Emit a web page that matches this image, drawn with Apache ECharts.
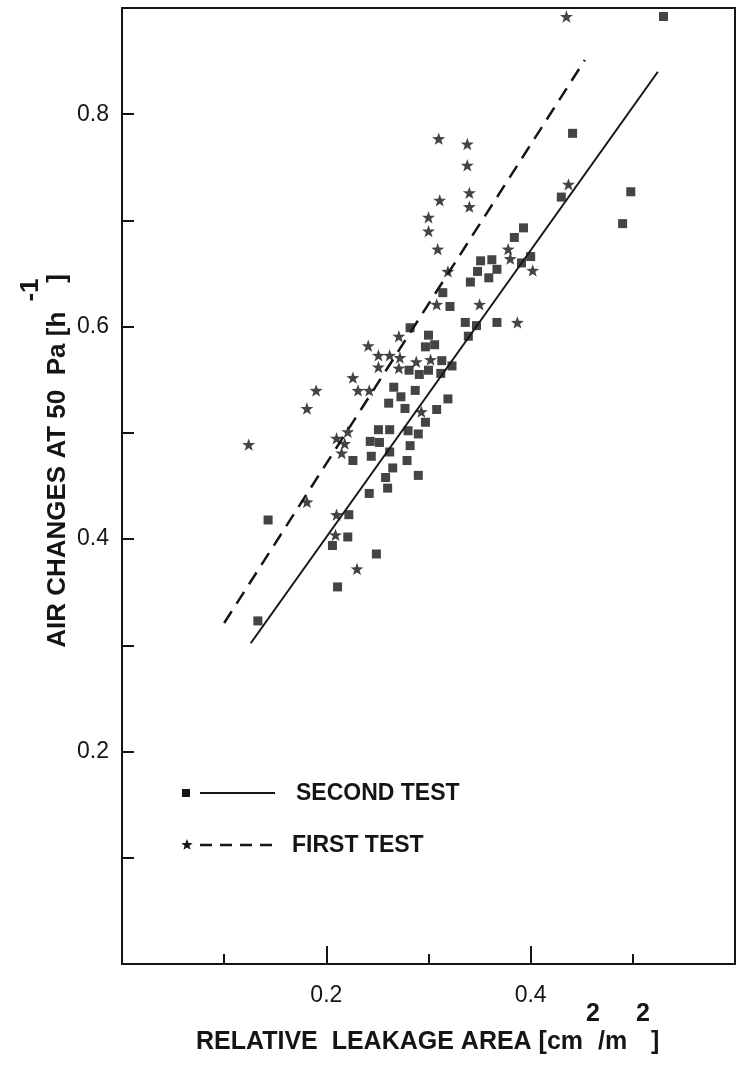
<!DOCTYPE html>
<html><head><meta charset="utf-8">
<script src="https://cdn.jsdelivr.net/npm/echarts@6/dist/echarts.min.js"></script>
<style>html,body{margin:0;padding:0;background:#fff}#c{width:738px;height:1067px}</style>
</head><body><div id="c"></div>
<script>
// Second test (squares): [relative leakage area, air changes at 50 Pa]
const secondTest = [
  [0.530,0.892],[0.441,0.782],[0.498,0.727],[0.490,0.697],[0.430,0.722],[0.393,0.693],
  [0.384,0.684],[0.400,0.666],[0.391,0.660],[0.351,0.662],[0.362,0.663],[0.348,0.652],
  [0.367,0.654],[0.359,0.646],[0.341,0.642],[0.314,0.632],[0.321,0.619],[0.336,0.604],
  [0.347,0.601],[0.367,0.604],[0.339,0.591],[0.282,0.599],[0.300,0.592],[0.297,0.581],
  [0.306,0.583],[0.313,0.568],[0.323,0.563],[0.281,0.559],[0.291,0.555],[0.300,0.559],
  [0.312,0.556],[0.266,0.543],[0.287,0.540],[0.273,0.534],[0.261,0.528],[0.277,0.523],
  [0.319,0.532],[0.308,0.522],[0.297,0.510],[0.251,0.503],[0.262,0.503],[0.280,0.502],
  [0.290,0.499],[0.243,0.492],[0.252,0.491],[0.282,0.488],[0.262,0.482],[0.244,0.478],
  [0.279,0.474],[0.226,0.474],[0.265,0.467],[0.258,0.458],[0.290,0.460],[0.260,0.448],
  [0.242,0.443],[0.222,0.423],[0.143,0.418],[0.221,0.402],[0.206,0.394],[0.249,0.386],
  [0.211,0.355],[0.133,0.323]
];
// First test (stars)
const firstTest = [
  [0.435,0.892],[0.310,0.777],[0.338,0.772],[0.338,0.752],[0.340,0.726],[0.311,0.719],
  [0.340,0.713],[0.300,0.703],[0.300,0.690],[0.309,0.673],[0.319,0.652],[0.437,0.734],
  [0.378,0.673],[0.380,0.664],[0.402,0.653],[0.308,0.621],[0.350,0.621],[0.387,0.604],
  [0.271,0.591],[0.241,0.582],[0.251,0.573],[0.262,0.573],[0.272,0.571],[0.251,0.562],
  [0.271,0.561],[0.288,0.567],[0.302,0.569],[0.226,0.552],[0.231,0.540],[0.242,0.540],
  [0.293,0.520],[0.210,0.495],[0.221,0.501],[0.218,0.490],[0.215,0.481],[0.210,0.423],
  [0.190,0.540],[0.181,0.523],[0.124,0.489],[0.181,0.435],[0.209,0.404],[0.230,0.372]
];
// Regression lines (end points)
const secondFit = [[0.126,0.302],[0.5245,0.840]];
const firstFit = [[0.100,0.321],[0.453,0.851]];
const xTickLabels = ['0.2','0.4'];
const yTickLabels = ['0.2','0.4','0.6','0.8'];
const seriesNames = ['SECOND TEST','FIRST TEST'];

const INK = '#151515';
const STAR = 'path://M0,-10L2.35,-3.24L9.51,-3.09L3.8,1.24L5.88,8.09L0,4.2L-5.88,8.09L-3.8,1.24L-9.51,-3.09L-2.35,-3.24Z';

function starPoints(cx, cy, r) {
  const pts = [];
  for (let i = 0; i < 10; i++) {
    const a = -Math.PI / 2 + i * Math.PI / 5;
    const rr = i % 2 ? r * 0.42 : r;
    pts.push([cx + rr * Math.cos(a), cy + rr * Math.sin(a)]);
  }
  return pts;
}

const chart = echarts.init(document.getElementById('c'), null, {renderer: 'canvas'});
const titleFont = 'bold 25px "Liberation Sans", Arial, sans-serif';
const yTitleFont = 'bold 26px "Liberation Sans", Arial, sans-serif';
const tickFont = {fontSize: 23, color: INK, fontFamily: '"Liberation Sans", Arial, sans-serif'};
chart.setOption({
  animation: false,
  backgroundColor: '#fff',
  grid: {left: 122, top: 8, right: 3, bottom: 103, show: true, borderColor: INK, borderWidth: 2},
  xAxis: {
    type: 'value', min: 0, max: 0.6, interval: 0.2,
    axisLine: {lineStyle: {color: INK, width: 2}},
    axisTick: {inside: true, length: 18, lineStyle: {color: INK, width: 2}},
    minorTick: {show: true, splitNumber: 2, length: 10, lineStyle: {color: INK, width: 2}},
    splitLine: {show: false}, minorSplitLine: {show: false},
    axisLabel: Object.assign({
      margin: 20,
      formatter: v => xTickLabels.indexOf(v.toFixed(1)) >= 0 ? v.toFixed(1) : ''
    }, tickFont)
  },
  yAxis: {
    type: 'value', min: 0, max: 0.9, interval: 0.1,
    axisLine: {lineStyle: {color: INK, width: 2}},
    axisTick: {inside: true, length: 12, lineStyle: {color: INK, width: 2}},
    splitLine: {show: false},
    axisLabel: Object.assign({
      margin: 13,
      formatter: v => yTickLabels.indexOf(v.toFixed(1)) >= 0 ? v.toFixed(1) : ''
    }, tickFont)
  },
  series: [
    {name: seriesNames[0], type: 'scatter', data: secondTest, symbol: 'rect', symbolSize: 9,
     itemStyle: {color: INK}, z: 3},
    {name: seriesNames[1], type: 'scatter', data: firstTest, symbol: STAR, symbolKeepAspect: true, symbolSize: 13,
     itemStyle: {color: INK}, z: 3},
    {type: 'line', data: secondFit, symbol: 'none', lineStyle: {color: INK, width: 2}, z: 2},
    {type: 'line', data: firstFit, symbol: 'none', lineStyle: {color: INK, width: 2.5, type: [14, 9]}, z: 2}
  ],
  graphic: [
    // legend
    {type: 'rect', shape: {x: 182, y: 789, width: 8, height: 8}, style: {fill: INK}},
    {type: 'line', shape: {x1: 200, y1: 793, x2: 275, y2: 793}, style: {stroke: INK, lineWidth: 2}},
    {type: 'text', x: 296, y: 794, style: {text: seriesNames[0], font: 'bold 23px "Liberation Sans", Arial, sans-serif', fill: INK, textVerticalAlign: 'middle'}},
    {type: 'polygon', shape: {points: starPoints(187, 845, 6)}, style: {fill: INK}},
    {type: 'line', shape: {x1: 200, y1: 845, x2: 273, y2: 845}, style: {stroke: INK, lineWidth: 2.5, lineDash: [12, 8]}},
    {type: 'text', x: 292, y: 846, style: {text: seriesNames[1], font: 'bold 23px "Liberation Sans", Arial, sans-serif', fill: INK, textVerticalAlign: 'middle'}},
    // x axis title
    {type: 'text', x: 196, y: 1042, style: {text: 'RELATIVE  LEAKAGE AREA [cm', font: titleFont, fill: INK, textVerticalAlign: 'middle'}},
    {type: 'text', x: 593, y: 1014, style: {text: '2', font: titleFont, fill: INK, textAlign: 'center', textVerticalAlign: 'middle'}},
    {type: 'text', x: 598, y: 1042, style: {text: '/m', font: titleFont, fill: INK, textVerticalAlign: 'middle'}},
    {type: 'text', x: 643, y: 1014, style: {text: '2', font: titleFont, fill: INK, textAlign: 'center', textVerticalAlign: 'middle'}},
    {type: 'text', x: 651, y: 1042, style: {text: ']', font: titleFont, fill: INK, textVerticalAlign: 'middle'}},
    // y axis title
    {type: 'text', x: 58, y: 461, rotation: Math.PI / 2, style: {text: 'AIR CHANGES AT 50  Pa [h    ]', font: yTitleFont, fill: INK, textAlign: 'center', textVerticalAlign: 'middle'}},
    {type: 'text', x: 31, y: 290, rotation: Math.PI / 2, style: {text: '-1', font: yTitleFont, fill: INK, textAlign: 'center', textVerticalAlign: 'middle'}}
  ]
});
</script>
</body></html>
